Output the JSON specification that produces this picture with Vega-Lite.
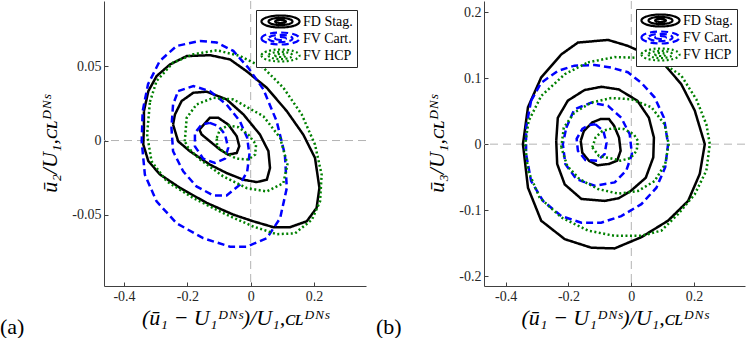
{
  "$schema": "https://vega.github.io/schema/vega-lite/v6.json",
  "padding": 0,
  "bounds": "flush",
  "spacing": 118,
  "config": {
    "font": "Liberation Serif",
    "view": {"stroke": null},
    "axis": {
      "grid": false,
      "labelFont": "Liberation Serif",
      "labelFontSize": 14,
      "labelColor": "#262626",
      "domainColor": "#404040",
      "tickColor": "#404040",
      "tickSize": -4,
      "labelPadding": 7,
      "titleFont": "Liberation Serif",
      "titleFontSize": 22,
      "titleFontWeight": "normal",
      "titleFontStyle": "italic",
      "titleColor": "#000000"
    },
    "axisY": {"titlePadding": 10},
    "legend": {"labelFont": "Liberation Serif"},
    "title": {"font": "Liberation Serif", "fontSize": 21, "fontWeight": "normal", "color": "#000000"}
  },
  "datasets": {
    "a": [
      {"s":"FD Stag.","l":3,"i":0,"x":-0.337,"y":0.0198},{"s":"FD Stag.","l":3,"i":1,"x":-0.323,"y":0.0333},{"s":"FD Stag.","l":3,"i":2,"x":-0.297,"y":0.0434},{"s":"FD Stag.","l":3,"i":3,"x":-0.255,"y":0.0512},{"s":"FD Stag.","l":3,"i":4,"x":-0.202,"y":0.0569},{"s":"FD Stag.","l":3,"i":5,"x":-0.128,"y":0.0575},{"s":"FD Stag.","l":3,"i":6,"x":-0.065,"y":0.0546},{"s":"FD Stag.","l":3,"i":7,"x":-0.013,"y":0.0467},{"s":"FD Stag.","l":3,"i":8,"x":0.051,"y":0.0355},{"s":"FD Stag.","l":3,"i":9,"x":0.114,"y":0.0198},{"s":"FD Stag.","l":3,"i":10,"x":0.166,"y":0.004},{"s":"FD Stag.","l":3,"i":11,"x":0.203,"y":-0.0117},{"s":"FD Stag.","l":3,"i":12,"x":0.217,"y":-0.0319},{"s":"FD Stag.","l":3,"i":13,"x":0.208,"y":-0.0454},{"s":"FD Stag.","l":3,"i":14,"x":0.177,"y":-0.0544},{"s":"FD Stag.","l":3,"i":15,"x":0.124,"y":-0.0584},{"s":"FD Stag.","l":3,"i":16,"x":0.072,"y":-0.0584},{"s":"FD Stag.","l":3,"i":17,"x":0.008,"y":-0.0544},{"s":"FD Stag.","l":3,"i":18,"x":-0.055,"y":-0.0499},{"s":"FD Stag.","l":3,"i":19,"x":-0.139,"y":-0.042},{"s":"FD Stag.","l":3,"i":20,"x":-0.223,"y":-0.0319},{"s":"FD Stag.","l":3,"i":21,"x":-0.286,"y":-0.0229},{"s":"FD Stag.","l":3,"i":22,"x":-0.323,"y":-0.0139},{"s":"FD Stag.","l":3,"i":23,"x":-0.339,"y":-0.0027},{"s":"FD Stag.","l":3,"i":24,"x":-0.337,"y":0.0085},{"s":"FD Stag.","l":3,"i":25,"x":-0.337,"y":0.0198},
      {"s":"FD Stag.","l":2,"i":0,"x":-0.245,"y":0.0108},{"s":"FD Stag.","l":2,"i":1,"x":-0.239,"y":0.0176},{"s":"FD Stag.","l":2,"i":2,"x":-0.218,"y":0.0266},{"s":"FD Stag.","l":2,"i":3,"x":-0.181,"y":0.0322},{"s":"FD Stag.","l":2,"i":4,"x":-0.139,"y":0.0329},{"s":"FD Stag.","l":2,"i":5,"x":-0.076,"y":0.0277},{"s":"FD Stag.","l":2,"i":6,"x":-0.023,"y":0.0176},{"s":"FD Stag.","l":2,"i":7,"x":0.029,"y":0.0041},{"s":"FD Stag.","l":2,"i":8,"x":0.056,"y":-0.0072},{"s":"FD Stag.","l":2,"i":9,"x":0.061,"y":-0.0185},{"s":"FD Stag.","l":2,"i":10,"x":0.051,"y":-0.0264},{"s":"FD Stag.","l":2,"i":11,"x":0.019,"y":-0.028},{"s":"FD Stag.","l":2,"i":12,"x":-0.023,"y":-0.0264},{"s":"FD Stag.","l":2,"i":13,"x":-0.076,"y":-0.0219},{"s":"FD Stag.","l":2,"i":14,"x":-0.129,"y":-0.0162},{"s":"FD Stag.","l":2,"i":15,"x":-0.192,"y":-0.0072},{"s":"FD Stag.","l":2,"i":16,"x":-0.229,"y":-0.0005},{"s":"FD Stag.","l":2,"i":17,"x":-0.245,"y":0.0108},
      {"s":"FD Stag.","l":1,"i":0,"x":-0.162,"y":0.0074},{"s":"FD Stag.","l":1,"i":1,"x":-0.129,"y":0.0153},{"s":"FD Stag.","l":1,"i":2,"x":-0.102,"y":0.0153},{"s":"FD Stag.","l":1,"i":3,"x":-0.071,"y":0.0108},{"s":"FD Stag.","l":1,"i":4,"x":-0.044,"y":0.0029},{"s":"FD Stag.","l":1,"i":5,"x":-0.036,"y":-0.0038},{"s":"FD Stag.","l":1,"i":6,"x":-0.044,"y":-0.0084},{"s":"FD Stag.","l":1,"i":7,"x":-0.071,"y":-0.0095},{"s":"FD Stag.","l":1,"i":8,"x":-0.097,"y":-0.0061},{"s":"FD Stag.","l":1,"i":9,"x":-0.129,"y":-0.0005},{"s":"FD Stag.","l":1,"i":10,"x":-0.155,"y":0.0041},{"s":"FD Stag.","l":1,"i":11,"x":-0.162,"y":0.0074},
      {"s":"FV Cart.","l":3,"i":0,"x":-0.16,"y":0.0671},{"s":"FV Cart.","l":3,"i":1,"x":-0.107,"y":0.066},{"s":"FV Cart.","l":3,"i":2,"x":-0.055,"y":0.0604},{"s":"FV Cart.","l":3,"i":3,"x":-0.008,"y":0.0491},{"s":"FV Cart.","l":3,"i":4,"x":0.04,"y":0.0345},{"s":"FV Cart.","l":3,"i":5,"x":0.082,"y":0.013},{"s":"FV Cart.","l":3,"i":6,"x":0.108,"y":-0.0095},{"s":"FV Cart.","l":3,"i":7,"x":0.114,"y":-0.032},{"s":"FV Cart.","l":3,"i":8,"x":0.093,"y":-0.0523},{"s":"FV Cart.","l":3,"i":9,"x":0.051,"y":-0.0658},{"s":"FV Cart.","l":3,"i":10,"x":-0.013,"y":-0.0715},{"s":"FV Cart.","l":3,"i":11,"x":-0.065,"y":-0.0715},{"s":"FV Cart.","l":3,"i":12,"x":-0.15,"y":-0.0658},{"s":"FV Cart.","l":3,"i":13,"x":-0.234,"y":-0.0557},{"s":"FV Cart.","l":3,"i":14,"x":-0.297,"y":-0.041},{"s":"FV Cart.","l":3,"i":15,"x":-0.334,"y":-0.023},{"s":"FV Cart.","l":3,"i":16,"x":-0.344,"y":-0.0005},{"s":"FV Cart.","l":3,"i":17,"x":-0.341,"y":0.0198},{"s":"FV Cart.","l":3,"i":18,"x":-0.324,"y":0.0379},{"s":"FV Cart.","l":3,"i":19,"x":-0.287,"y":0.0536},{"s":"FV Cart.","l":3,"i":20,"x":-0.234,"y":0.0637},{"s":"FV Cart.","l":3,"i":21,"x":-0.16,"y":0.0671},
      {"s":"FV Cart.","l":2,"i":0,"x":-0.229,"y":0.0333},{"s":"FV Cart.","l":2,"i":1,"x":-0.181,"y":0.0367},{"s":"FV Cart.","l":2,"i":2,"x":-0.129,"y":0.0333},{"s":"FV Cart.","l":2,"i":3,"x":-0.076,"y":0.0243},{"s":"FV Cart.","l":2,"i":4,"x":-0.034,"y":0.013},{"s":"FV Cart.","l":2,"i":5,"x":-0.011,"y":0.0018},{"s":"FV Cart.","l":2,"i":6,"x":-0.004,"y":-0.0095},{"s":"FV Cart.","l":2,"i":7,"x":-0.011,"y":-0.0208},{"s":"FV Cart.","l":2,"i":8,"x":-0.034,"y":-0.0297},{"s":"FV Cart.","l":2,"i":9,"x":-0.076,"y":-0.037},{"s":"FV Cart.","l":2,"i":10,"x":-0.118,"y":-0.037},{"s":"FV Cart.","l":2,"i":11,"x":-0.171,"y":-0.0309},{"s":"FV Cart.","l":2,"i":12,"x":-0.213,"y":-0.0208},{"s":"FV Cart.","l":2,"i":13,"x":-0.245,"y":-0.0072},{"s":"FV Cart.","l":2,"i":14,"x":-0.25,"y":0.0085},{"s":"FV Cart.","l":2,"i":15,"x":-0.245,"y":0.0243},{"s":"FV Cart.","l":2,"i":16,"x":-0.229,"y":0.0333},
      {"s":"FV Cart.","l":1,"i":0,"x":-0.129,"y":0.0119},{"s":"FV Cart.","l":1,"i":1,"x":-0.102,"y":0.0097},{"s":"FV Cart.","l":1,"i":2,"x":-0.081,"y":0.0041},{"s":"FV Cart.","l":1,"i":3,"x":-0.071,"y":-0.005},{"s":"FV Cart.","l":1,"i":4,"x":-0.081,"y":-0.0122},{"s":"FV Cart.","l":1,"i":5,"x":-0.113,"y":-0.0151},{"s":"FV Cart.","l":1,"i":6,"x":-0.15,"y":-0.0122},{"s":"FV Cart.","l":1,"i":7,"x":-0.176,"y":-0.0039},{"s":"FV Cart.","l":1,"i":8,"x":-0.176,"y":0.0051},{"s":"FV Cart.","l":1,"i":9,"x":-0.155,"y":0.0108},{"s":"FV Cart.","l":1,"i":10,"x":-0.129,"y":0.0119},
      {"s":"FV HCP","l":3,"i":0,"x":-0.318,"y":0.0261},{"s":"FV HCP","l":3,"i":1,"x":-0.297,"y":0.0401},{"s":"FV HCP","l":3,"i":2,"x":-0.245,"y":0.0525},{"s":"FV HCP","l":3,"i":3,"x":-0.181,"y":0.0581},{"s":"FV HCP","l":3,"i":4,"x":-0.107,"y":0.0608},{"s":"FV HCP","l":3,"i":5,"x":-0.034,"y":0.057},{"s":"FV HCP","l":3,"i":6,"x":0.04,"y":0.0491},{"s":"FV HCP","l":3,"i":7,"x":0.103,"y":0.0356},{"s":"FV HCP","l":3,"i":8,"x":0.161,"y":0.0176},{"s":"FV HCP","l":3,"i":9,"x":0.203,"y":-0.0027},{"s":"FV HCP","l":3,"i":10,"x":0.224,"y":-0.023},{"s":"FV HCP","l":3,"i":11,"x":0.219,"y":-0.041},{"s":"FV HCP","l":3,"i":12,"x":0.193,"y":-0.0534},{"s":"FV HCP","l":3,"i":13,"x":0.14,"y":-0.0625},{"s":"FV HCP","l":3,"i":14,"x":0.082,"y":-0.0631},{"s":"FV HCP","l":3,"i":15,"x":0.008,"y":-0.0579},{"s":"FV HCP","l":3,"i":16,"x":-0.076,"y":-0.05},{"s":"FV HCP","l":3,"i":17,"x":-0.181,"y":-0.0388},{"s":"FV HCP","l":3,"i":18,"x":-0.265,"y":-0.0275},{"s":"FV HCP","l":3,"i":19,"x":-0.313,"y":-0.014},{"s":"FV HCP","l":3,"i":20,"x":-0.327,"y":0.0041},{"s":"FV HCP","l":3,"i":21,"x":-0.318,"y":0.0261},
      {"s":"FV HCP","l":2,"i":0,"x":-0.208,"y":-0.0005},{"s":"FV HCP","l":2,"i":1,"x":-0.202,"y":0.0153},{"s":"FV HCP","l":2,"i":2,"x":-0.171,"y":0.0243},{"s":"FV HCP","l":2,"i":3,"x":-0.118,"y":0.0288},{"s":"FV HCP","l":2,"i":4,"x":-0.055,"y":0.0277},{"s":"FV HCP","l":2,"i":5,"x":0.04,"y":0.0164},{"s":"FV HCP","l":2,"i":6,"x":0.093,"y":0.0018},{"s":"FV HCP","l":2,"i":7,"x":0.116,"y":-0.0162},{"s":"FV HCP","l":2,"i":8,"x":0.103,"y":-0.0287},{"s":"FV HCP","l":2,"i":9,"x":0.051,"y":-0.0343},{"s":"FV HCP","l":2,"i":10,"x":-0.013,"y":-0.032},{"s":"FV HCP","l":2,"i":11,"x":-0.087,"y":-0.0241},{"s":"FV HCP","l":2,"i":12,"x":-0.16,"y":-0.0128},{"s":"FV HCP","l":2,"i":13,"x":-0.197,"y":-0.005},{"s":"FV HCP","l":2,"i":14,"x":-0.208,"y":-0.0005},
      {"s":"FV HCP","l":1,"i":0,"x":-0.107,"y":0.0018},{"s":"FV HCP","l":1,"i":1,"x":-0.097,"y":0.0074},{"s":"FV HCP","l":1,"i":2,"x":-0.071,"y":0.0101},{"s":"FV HCP","l":1,"i":3,"x":-0.039,"y":0.009},{"s":"FV HCP","l":1,"i":4,"x":-0.008,"y":0.0041},{"s":"FV HCP","l":1,"i":5,"x":0.017,"y":-0.0027},{"s":"FV HCP","l":1,"i":6,"x":0.014,"y":-0.0095},{"s":"FV HCP","l":1,"i":7,"x":-0.008,"y":-0.0128},{"s":"FV HCP","l":1,"i":8,"x":-0.044,"y":-0.0122},{"s":"FV HCP","l":1,"i":9,"x":-0.081,"y":-0.0084},{"s":"FV HCP","l":1,"i":10,"x":-0.106,"y":-0.0039},{"s":"FV HCP","l":1,"i":11,"x":-0.107,"y":0.0018}
    ],
    "b": [
      {"s":"FD Stag.","l":3,"i":0,"x":-0.223,"y":0.136},{"s":"FD Stag.","l":3,"i":1,"x":-0.17,"y":0.154},{"s":"FD Stag.","l":3,"i":2,"x":-0.074,"y":0.158},{"s":"FD Stag.","l":3,"i":3,"x":-0.011,"y":0.149},{"s":"FD Stag.","l":3,"i":4,"x":0.096,"y":0.126},{"s":"FD Stag.","l":3,"i":5,"x":0.159,"y":0.091},{"s":"FD Stag.","l":3,"i":6,"x":0.202,"y":0.051},{"s":"FD Stag.","l":3,"i":7,"x":0.234,"y":0.0},{"s":"FD Stag.","l":3,"i":8,"x":0.218,"y":-0.045},{"s":"FD Stag.","l":3,"i":9,"x":0.181,"y":-0.086},{"s":"FD Stag.","l":3,"i":10,"x":0.117,"y":-0.116},{"s":"FD Stag.","l":3,"i":11,"x":0.032,"y":-0.141},{"s":"FD Stag.","l":3,"i":12,"x":-0.053,"y":-0.158},{"s":"FD Stag.","l":3,"i":13,"x":-0.127,"y":-0.157},{"s":"FD Stag.","l":3,"i":14,"x":-0.212,"y":-0.144},{"s":"FD Stag.","l":3,"i":15,"x":-0.287,"y":-0.116},{"s":"FD Stag.","l":3,"i":16,"x":-0.329,"y":-0.066},{"s":"FD Stag.","l":3,"i":17,"x":-0.345,"y":0.0},{"s":"FD Stag.","l":3,"i":18,"x":-0.329,"y":0.056},{"s":"FD Stag.","l":3,"i":19,"x":-0.287,"y":0.101},{"s":"FD Stag.","l":3,"i":20,"x":-0.223,"y":0.136},
      {"s":"FD Stag.","l":2,"i":0,"x":-0.239,"y":0.005},{"s":"FD Stag.","l":2,"i":1,"x":-0.234,"y":0.04},{"s":"FD Stag.","l":2,"i":2,"x":-0.202,"y":0.066},{"s":"FD Stag.","l":2,"i":3,"x":-0.149,"y":0.082},{"s":"FD Stag.","l":2,"i":4,"x":-0.095,"y":0.087},{"s":"FD Stag.","l":2,"i":5,"x":-0.04,"y":0.083},{"s":"FD Stag.","l":2,"i":6,"x":0.019,"y":0.066},{"s":"FD Stag.","l":2,"i":7,"x":0.056,"y":0.04},{"s":"FD Stag.","l":2,"i":8,"x":0.072,"y":0.01},{"s":"FD Stag.","l":2,"i":9,"x":0.07,"y":-0.02},{"s":"FD Stag.","l":2,"i":10,"x":0.046,"y":-0.051},{"s":"FD Stag.","l":2,"i":11,"x":-0.002,"y":-0.071},{"s":"FD Stag.","l":2,"i":12,"x":-0.04,"y":-0.082},{"s":"FD Stag.","l":2,"i":13,"x":-0.085,"y":-0.086},{"s":"FD Stag.","l":2,"i":14,"x":-0.159,"y":-0.083},{"s":"FD Stag.","l":2,"i":15,"x":-0.212,"y":-0.061},{"s":"FD Stag.","l":2,"i":16,"x":-0.236,"y":-0.03},{"s":"FD Stag.","l":2,"i":17,"x":-0.239,"y":0.005},
      {"s":"FD Stag.","l":1,"i":0,"x":-0.161,"y":0.005},{"s":"FD Stag.","l":1,"i":1,"x":-0.151,"y":0.02},{"s":"FD Stag.","l":1,"i":2,"x":-0.124,"y":0.033},{"s":"FD Stag.","l":1,"i":3,"x":-0.098,"y":0.038},{"s":"FD Stag.","l":1,"i":4,"x":-0.071,"y":0.038},{"s":"FD Stag.","l":1,"i":5,"x":-0.055,"y":0.028},{"s":"FD Stag.","l":1,"i":6,"x":-0.039,"y":0.01},{"s":"FD Stag.","l":1,"i":7,"x":-0.034,"y":-0.01},{"s":"FD Stag.","l":1,"i":8,"x":-0.045,"y":-0.025},{"s":"FD Stag.","l":1,"i":9,"x":-0.071,"y":-0.03},{"s":"FD Stag.","l":1,"i":10,"x":-0.108,"y":-0.032},{"s":"FD Stag.","l":1,"i":11,"x":-0.135,"y":-0.025},{"s":"FD Stag.","l":1,"i":12,"x":-0.156,"y":-0.013},{"s":"FD Stag.","l":1,"i":13,"x":-0.161,"y":0.005},
      {"s":"FV Cart.","l":3,"i":0,"x":-0.319,"y":0.066},{"s":"FV Cart.","l":3,"i":1,"x":-0.287,"y":0.093},{"s":"FV Cart.","l":3,"i":2,"x":-0.234,"y":0.111},{"s":"FV Cart.","l":3,"i":3,"x":-0.181,"y":0.119},{"s":"FV Cart.","l":3,"i":4,"x":-0.117,"y":0.12},{"s":"FV Cart.","l":3,"i":5,"x":-0.064,"y":0.116},{"s":"FV Cart.","l":3,"i":6,"x":-0.011,"y":0.109},{"s":"FV Cart.","l":3,"i":7,"x":0.032,"y":0.093},{"s":"FV Cart.","l":3,"i":8,"x":0.074,"y":0.071},{"s":"FV Cart.","l":3,"i":9,"x":0.104,"y":0.04},{"s":"FV Cart.","l":3,"i":10,"x":0.117,"y":0.0},{"s":"FV Cart.","l":3,"i":11,"x":0.108,"y":-0.035},{"s":"FV Cart.","l":3,"i":12,"x":0.08,"y":-0.066},{"s":"FV Cart.","l":3,"i":13,"x":0.032,"y":-0.091},{"s":"FV Cart.","l":3,"i":14,"x":-0.032,"y":-0.109},{"s":"FV Cart.","l":3,"i":15,"x":-0.096,"y":-0.119},{"s":"FV Cart.","l":3,"i":16,"x":-0.159,"y":-0.119},{"s":"FV Cart.","l":3,"i":17,"x":-0.223,"y":-0.109},{"s":"FV Cart.","l":3,"i":18,"x":-0.281,"y":-0.086},{"s":"FV Cart.","l":3,"i":19,"x":-0.319,"y":-0.056},{"s":"FV Cart.","l":3,"i":20,"x":-0.335,"y":-0.015},{"s":"FV Cart.","l":3,"i":21,"x":-0.335,"y":0.025},{"s":"FV Cart.","l":3,"i":22,"x":-0.319,"y":0.066},
      {"s":"FV Cart.","l":2,"i":0,"x":-0.207,"y":0.025},{"s":"FV Cart.","l":2,"i":1,"x":-0.181,"y":0.053},{"s":"FV Cart.","l":2,"i":2,"x":-0.127,"y":0.063},{"s":"FV Cart.","l":2,"i":3,"x":-0.074,"y":0.058},{"s":"FV Cart.","l":2,"i":4,"x":-0.032,"y":0.04},{"s":"FV Cart.","l":2,"i":5,"x":-0.005,"y":0.015},{"s":"FV Cart.","l":2,"i":6,"x":0.002,"y":-0.015},{"s":"FV Cart.","l":2,"i":7,"x":-0.016,"y":-0.04},{"s":"FV Cart.","l":2,"i":8,"x":-0.053,"y":-0.058},{"s":"FV Cart.","l":2,"i":9,"x":-0.117,"y":-0.063},{"s":"FV Cart.","l":2,"i":10,"x":-0.175,"y":-0.053},{"s":"FV Cart.","l":2,"i":11,"x":-0.21,"y":-0.03},{"s":"FV Cart.","l":2,"i":12,"x":-0.218,"y":0.0},{"s":"FV Cart.","l":2,"i":13,"x":-0.207,"y":0.025},
      {"s":"FV Cart.","l":1,"i":0,"x":-0.114,"y":0.03},{"s":"FV Cart.","l":1,"i":1,"x":-0.089,"y":0.02},{"s":"FV Cart.","l":1,"i":2,"x":-0.079,"y":0.002},{"s":"FV Cart.","l":1,"i":3,"x":-0.085,"y":-0.015},{"s":"FV Cart.","l":1,"i":4,"x":-0.108,"y":-0.025},{"s":"FV Cart.","l":1,"i":5,"x":-0.146,"y":-0.024},{"s":"FV Cart.","l":1,"i":6,"x":-0.17,"y":-0.01},{"s":"FV Cart.","l":1,"i":7,"x":-0.174,"y":0.008},{"s":"FV Cart.","l":1,"i":8,"x":-0.156,"y":0.023},{"s":"FV Cart.","l":1,"i":9,"x":-0.135,"y":0.029},{"s":"FV Cart.","l":1,"i":10,"x":-0.114,"y":0.03},
      {"s":"FV HCP","l":3,"i":0,"x":-0.138,"y":0.124},{"s":"FV HCP","l":3,"i":1,"x":-0.053,"y":0.132},{"s":"FV HCP","l":3,"i":2,"x":0.021,"y":0.131},{"s":"FV HCP","l":3,"i":3,"x":0.096,"y":0.124},{"s":"FV HCP","l":3,"i":4,"x":0.159,"y":0.104},{"s":"FV HCP","l":3,"i":5,"x":0.207,"y":0.068},{"s":"FV HCP","l":3,"i":6,"x":0.239,"y":0.03},{"s":"FV HCP","l":3,"i":7,"x":0.25,"y":0.0},{"s":"FV HCP","l":3,"i":8,"x":0.239,"y":-0.04},{"s":"FV HCP","l":3,"i":9,"x":0.202,"y":-0.076},{"s":"FV HCP","l":3,"i":10,"x":0.149,"y":-0.106},{"s":"FV HCP","l":3,"i":11,"x":0.096,"y":-0.131},{"s":"FV HCP","l":3,"i":12,"x":0.032,"y":-0.139},{"s":"FV HCP","l":3,"i":13,"x":-0.053,"y":-0.139},{"s":"FV HCP","l":3,"i":14,"x":-0.138,"y":-0.131},{"s":"FV HCP","l":3,"i":15,"x":-0.223,"y":-0.111},{"s":"FV HCP","l":3,"i":16,"x":-0.292,"y":-0.081},{"s":"FV HCP","l":3,"i":17,"x":-0.329,"y":-0.04},{"s":"FV HCP","l":3,"i":18,"x":-0.338,"y":0.0},{"s":"FV HCP","l":3,"i":19,"x":-0.327,"y":0.035},{"s":"FV HCP","l":3,"i":20,"x":-0.287,"y":0.073},{"s":"FV HCP","l":3,"i":21,"x":-0.212,"y":0.106},{"s":"FV HCP","l":3,"i":22,"x":-0.138,"y":0.124},
      {"s":"FV HCP","l":2,"i":0,"x":-0.223,"y":-0.005},{"s":"FV HCP","l":2,"i":1,"x":-0.215,"y":0.025},{"s":"FV HCP","l":2,"i":2,"x":-0.181,"y":0.048},{"s":"FV HCP","l":2,"i":3,"x":-0.127,"y":0.063},{"s":"FV HCP","l":2,"i":4,"x":-0.064,"y":0.07},{"s":"FV HCP","l":2,"i":5,"x":0.0,"y":0.068},{"s":"FV HCP","l":2,"i":6,"x":0.064,"y":0.056},{"s":"FV HCP","l":2,"i":7,"x":0.106,"y":0.03},{"s":"FV HCP","l":2,"i":8,"x":0.119,"y":0.0},{"s":"FV HCP","l":2,"i":9,"x":0.108,"y":-0.03},{"s":"FV HCP","l":2,"i":10,"x":0.074,"y":-0.056},{"s":"FV HCP","l":2,"i":11,"x":0.021,"y":-0.071},{"s":"FV HCP","l":2,"i":12,"x":-0.042,"y":-0.075},{"s":"FV HCP","l":2,"i":13,"x":-0.106,"y":-0.068},{"s":"FV HCP","l":2,"i":14,"x":-0.165,"y":-0.053},{"s":"FV HCP","l":2,"i":15,"x":-0.204,"y":-0.033},{"s":"FV HCP","l":2,"i":16,"x":-0.223,"y":-0.005},
      {"s":"FV HCP","l":1,"i":0,"x":-0.124,"y":-0.005},{"s":"FV HCP","l":1,"i":1,"x":-0.114,"y":0.01},{"s":"FV HCP","l":1,"i":2,"x":-0.092,"y":0.02},{"s":"FV HCP","l":1,"i":3,"x":-0.061,"y":0.024},{"s":"FV HCP","l":1,"i":4,"x":-0.024,"y":0.023},{"s":"FV HCP","l":1,"i":5,"x":0.008,"y":0.015},{"s":"FV HCP","l":1,"i":6,"x":0.021,"y":0.005},{"s":"FV HCP","l":1,"i":7,"x":0.017,"y":-0.01},{"s":"FV HCP","l":1,"i":8,"x":-0.002,"y":-0.021},{"s":"FV HCP","l":1,"i":9,"x":-0.034,"y":-0.025},{"s":"FV HCP","l":1,"i":10,"x":-0.071,"y":-0.021},{"s":"FV HCP","l":1,"i":11,"x":-0.103,"y":-0.018},{"s":"FV HCP","l":1,"i":12,"x":-0.124,"y":-0.005}
    ]
  },
  "hconcat": [
    {
      "width": 262,
      "height": 285,
      "title": {"text": "(a)", "orient": "bottom", "anchor": "start", "frame": "group", "dx": -104, "offset": -11, "font": "Liberation Serif", "fontSize": 22, "fontWeight": "normal", "color": "#000000"},
      "layer": [
        {
          "data": {"values": [{}]},
          "mark": {"type": "rule", "color": "#b3b3b3", "strokeDash": [8, 5], "strokeWidth": 1},
          "encoding": {"x": {"datum": 0}}
        },
        {
          "data": {"values": [{}]},
          "mark": {"type": "rule", "color": "#b3b3b3", "strokeDash": [8, 5], "strokeWidth": 1},
          "encoding": {"y": {"datum": 0}}
        },
        {
          "data": {"name": "a"},
          "mark": {"type": "line", "strokeWidth": 2.5},
          "encoding": {
            "x": {"field": "x", "type": "quantitative", "scale": {"domain": [-0.463, 0.364], "nice": false, "zero": false},
                  "axis": {"values": [-0.4, -0.2, 0, 0.2], "format": "~g", "labelExpr": "replace(datum.label, '−', '-')", "labelFont": "Liberation Serif", "labelFontSize": 14, "titleFont": "Liberation Serif", "titleFontSize": 22, "titleFontStyle": "italic", "titleFontWeight": "normal", "title": "(ū₁ − U₁ᴰᴺˢ)/U₁,ᴄʟᴰᴺˢ"}},
            "y": {"field": "y", "type": "quantitative", "scale": {"domain": [-0.098, 0.094], "nice": false, "zero": false},
                  "axis": {"values": [-0.05, 0, 0.05], "format": "~g", "labelExpr": "replace(datum.label, '−', '-')", "labelFont": "Liberation Serif", "labelFontSize": 14, "titleFont": "Liberation Serif", "titleFontSize": 22, "titleFontStyle": "italic", "titleFontWeight": "normal", "titlePadding": 10, "title": "ū₂/U₁,ᴄʟᴰᴺˢ"}},
            "color": {"field": "s", "type": "nominal",
                      "scale": {"domain": ["FD Stag.", "FV Cart.", "FV HCP"], "range": ["#000000", "#0000ff", "#008000"]},
                      "legend": {"title": null, "orient": "top-right", "offset": 9, "symbolType": "M-1,0A3.17,1,0,1,0,5.34,0A3.17,1,0,1,0,-1,0ZM0.17,0A2,0.6,0,1,0,4.17,0A2,0.6,0,1,0,0.17,0ZM1.27,0A0.9,0.25,0,1,0,3.07,0A0.9,0.25,0,1,0,1.27,0Z", "symbolSize": 144, "symbolStrokeWidth": 2.2, "symbolFillColor": "transparent", "labelFont": "Liberation Serif", "labelFontSize": 14, "labelColor": "#000000", "labelOffset": 28, "padding": 4, "rowPadding": 2, "clipHeight": 15, "strokeColor": "#262626", "fillColor": "#ffffff"}},
            "strokeDash": {"field": "s", "type": "nominal",
                      "scale": {"domain": ["FD Stag.", "FV Cart.", "FV HCP"], "range": [[1, 0], [7, 4], [2, 2.5]]},
                      "legend": {"title": null, "orient": "top-right", "offset": 9, "symbolType": "M-1,0A3.17,1,0,1,0,5.34,0A3.17,1,0,1,0,-1,0ZM0.17,0A2,0.6,0,1,0,4.17,0A2,0.6,0,1,0,0.17,0ZM1.27,0A0.9,0.25,0,1,0,3.07,0A0.9,0.25,0,1,0,1.27,0Z", "symbolSize": 144, "symbolStrokeWidth": 2.2, "symbolFillColor": "transparent", "labelFont": "Liberation Serif", "labelFontSize": 14, "labelColor": "#000000", "labelOffset": 28, "padding": 4, "rowPadding": 2, "clipHeight": 15, "strokeColor": "#262626", "fillColor": "#ffffff"}},
            "detail": {"field": "l", "type": "nominal"},
            "order": {"field": "i", "type": "quantitative"}
          }
        }
      ]
    },
    {
      "width": 261,
      "height": 285,
      "title": {"text": "(b)", "orient": "bottom", "anchor": "start", "frame": "group", "dx": -108, "offset": -11, "font": "Liberation Serif", "fontSize": 22, "fontWeight": "normal", "color": "#000000"},
      "layer": [
        {
          "data": {"values": [{}]},
          "mark": {"type": "rule", "color": "#b3b3b3", "strokeDash": [8, 5], "strokeWidth": 1},
          "encoding": {"x": {"datum": 0}}
        },
        {
          "data": {"values": [{}]},
          "mark": {"type": "rule", "color": "#b3b3b3", "strokeDash": [8, 5], "strokeWidth": 1},
          "encoding": {"y": {"datum": 0}}
        },
        {
          "data": {"name": "b"},
          "mark": {"type": "line", "strokeWidth": 2.5},
          "encoding": {
            "x": {"field": "x", "type": "quantitative", "scale": {"domain": [-0.469, 0.362], "nice": false, "zero": false},
                  "axis": {"values": [-0.4, -0.2, 0, 0.2], "format": "~g", "labelExpr": "replace(datum.label, '−', '-')", "labelFont": "Liberation Serif", "labelFontSize": 14, "titleFont": "Liberation Serif", "titleFontSize": 22, "titleFontStyle": "italic", "titleFontWeight": "normal", "title": "(ū₁ − U₁ᴰᴺˢ)/U₁,ᴄʟᴰᴺˢ"}},
            "y": {"field": "y", "type": "quantitative", "scale": {"domain": [-0.215, 0.217], "nice": false, "zero": false},
                  "axis": {"values": [-0.2, -0.1, 0, 0.1, 0.2], "format": "~g", "labelExpr": "replace(datum.label, '−', '-')", "labelFont": "Liberation Serif", "labelFontSize": 14, "titleFont": "Liberation Serif", "titleFontSize": 22, "titleFontStyle": "italic", "titleFontWeight": "normal", "titlePadding": 10, "title": "ū₃/U₁,ᴄʟᴰᴺˢ"}},
            "color": {"field": "s", "type": "nominal",
                      "scale": {"domain": ["FD Stag.", "FV Cart.", "FV HCP"], "range": ["#000000", "#0000ff", "#008000"]},
                      "legend": {"title": null, "orient": "top-right", "offset": 8, "symbolType": "M-1,0A3.17,1,0,1,0,5.34,0A3.17,1,0,1,0,-1,0ZM0.17,0A2,0.6,0,1,0,4.17,0A2,0.6,0,1,0,0.17,0ZM1.27,0A0.9,0.25,0,1,0,3.07,0A0.9,0.25,0,1,0,1.27,0Z", "symbolSize": 144, "symbolStrokeWidth": 2.2, "symbolFillColor": "transparent", "labelFont": "Liberation Serif", "labelFontSize": 14, "labelColor": "#000000", "labelOffset": 28, "padding": 4, "rowPadding": 2, "clipHeight": 15, "strokeColor": "#262626", "fillColor": "#ffffff"}},
            "strokeDash": {"field": "s", "type": "nominal",
                      "scale": {"domain": ["FD Stag.", "FV Cart.", "FV HCP"], "range": [[1, 0], [7, 4], [2, 2.5]]},
                      "legend": {"title": null, "orient": "top-right", "offset": 8, "symbolType": "M-1,0A3.17,1,0,1,0,5.34,0A3.17,1,0,1,0,-1,0ZM0.17,0A2,0.6,0,1,0,4.17,0A2,0.6,0,1,0,0.17,0ZM1.27,0A0.9,0.25,0,1,0,3.07,0A0.9,0.25,0,1,0,1.27,0Z", "symbolSize": 144, "symbolStrokeWidth": 2.2, "symbolFillColor": "transparent", "labelFont": "Liberation Serif", "labelFontSize": 14, "labelColor": "#000000", "labelOffset": 28, "padding": 4, "rowPadding": 2, "clipHeight": 15, "strokeColor": "#262626", "fillColor": "#ffffff"}},
            "detail": {"field": "l", "type": "nominal"},
            "order": {"field": "i", "type": "quantitative"}
          }
        }
      ]
    }
  ],
  "resolve": {
    "scale": {"x": "independent", "y": "independent", "color": "independent", "strokeDash": "independent"},
    "legend": {"color": "independent", "strokeDash": "independent"}
  }
}
